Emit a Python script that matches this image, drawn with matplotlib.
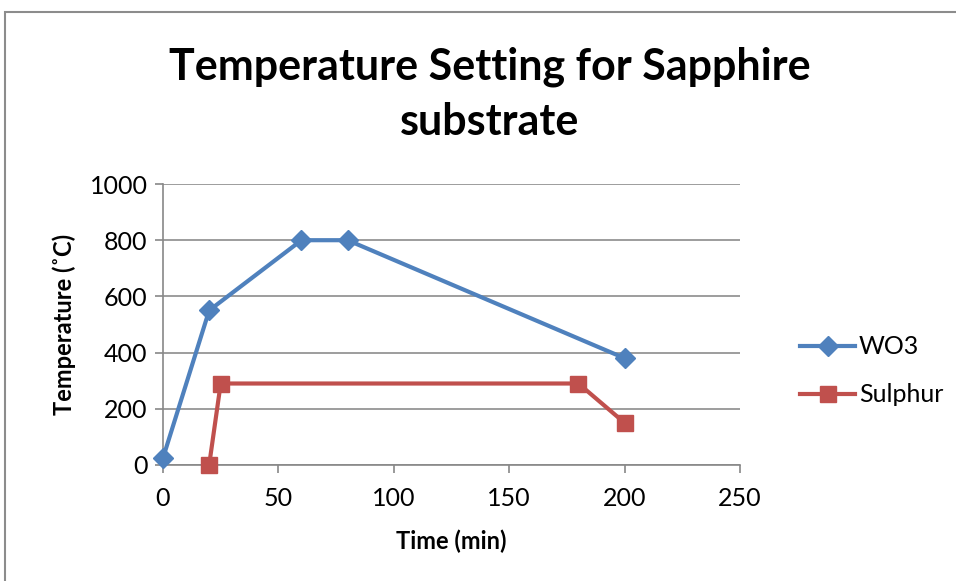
import numpy as np
import matplotlib.pyplot as plt
from matplotlib.patches import Rectangle

wo3_time = [0, 20, 60, 80, 200]
wo3_temp = [25, 550, 800, 800, 380]
s_time = [20, 25, 180, 200]
s_temp = [0, 290, 290, 150]

x_ticks = [0, 50, 100, 150, 200, 250]
y_ticks = [0, 200, 400, 600, 800, 1000]

plt.rcParams['font.family'] = ['Lato', 'DejaVu Sans']

fig = plt.figure(figsize=(9.56, 5.81), dpi=100)
fig.patches.append(Rectangle((5/956, -0.1), 1.1, 1 - 12/581 + 0.1, transform=fig.transFigure,
                             fill=False, edgecolor='#8c8c8c', linewidth=1.5))

ax = fig.add_axes([163/956, 1 - 465/581, (740 - 163)/956, (465 - 184)/581])

ax.plot(wo3_time, wo3_temp, color='#4F81BD', lw=3, marker='D', ms=10, label='WO3', clip_on=False, zorder=3)
ax.plot(s_time, s_temp, color='#C0504D', lw=3, marker='s', ms=12, label='Sulphur', clip_on=False, zorder=3)

ax.set_xlim(0, 250)
ax.set_ylim(0, 1000)
ax.set_xticks(x_ticks)
ax.set_yticks(y_ticks)
ax.tick_params(labelsize=18, color='#888888', length=6, width=1.2, pad=5)
ax.tick_params(axis='x', pad=10)
ax.yaxis.grid(True, color='#8c8c8c', lw=1.2)
ax.set_axisbelow(True)
for s in ['top', 'right']:
    ax.spines[s].set_visible(False)
for s in ['left', 'bottom']:
    ax.spines[s].set_color('#888888')
    ax.spines[s].set_linewidth(1.2)

ax.set_xlabel('Time (min)', fontsize=17, fontweight='bold', labelpad=14)
ax.set_ylabel('Temperature (˚C)', fontsize=17, fontweight='bold', labelpad=10)

fig.text(490/956, 1 - 94/581, 'Temperature Setting for Sapphire\nsubstrate', ha='center', va='center',
         fontsize=31, fontweight='bold', linespacing=1.45)

ax.legend(loc='center left', bbox_to_anchor=(1.065, 0.335), frameon=False, fontsize=18,
          handlelength=2.2, handletextpad=0.15, labelspacing=1.0)

fig.savefig('out.png', dpi=100)
